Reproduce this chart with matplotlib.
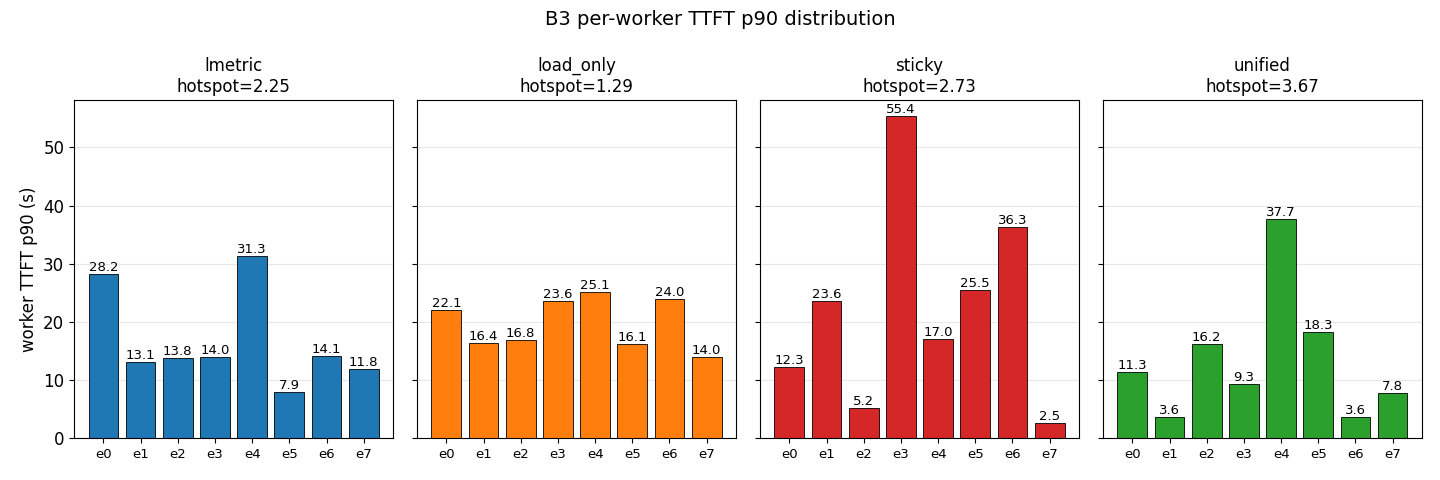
import matplotlib
matplotlib.use("Agg")
import matplotlib.pyplot as plt

workers = ['e0', 'e1', 'e2', 'e3', 'e4', 'e5', 'e6', 'e7']
policies = ['lmetric', 'load_only', 'sticky', 'unified']
hotspots = [2.25, 1.29, 2.73, 3.67]
colors = ['#1f77b4', '#ff7f0e', '#d62728', '#2ca02c']

lmetric_vals = [28.2, 13.1, 13.8, 14.0, 31.3, 7.9, 14.1, 11.8]
load_only_vals = [22.1, 16.4, 16.8, 23.6, 25.1, 16.1, 24.0, 14.0]
sticky_vals = [12.3, 23.6, 5.2, 55.4, 17.0, 25.5, 36.3, 2.5]
unified_vals = [11.3, 3.6, 16.2, 9.3, 37.7, 18.3, 3.6, 7.8]
all_vals = [lmetric_vals, load_only_vals, sticky_vals, unified_vals]

fig, axes = plt.subplots(1, 4, figsize=(14.4, 4.8), dpi=100, sharey=True)

for ax, name, hs, vals, c in zip(axes, policies, hotspots, all_vals, colors):
    bars = ax.bar(workers, vals, color=c, edgecolor='black', linewidth=0.6)
    for b, v in zip(bars, vals):
        ax.text(b.get_x() + b.get_width() / 2, v, f"{v:.1f}",
                ha='center', va='bottom', fontsize=9.5)
    ax.set_title(f"{name}\nhotspot={hs:.2f}", fontsize=12)
    ax.tick_params(axis='x', labelsize=9.5)
    ax.grid(axis='y', alpha=0.3)
    ax.set_axisbelow(True)

axes[0].set_ylabel('worker TTFT p90 (s)', fontsize=12)
axes[0].tick_params(axis='y', labelsize=12)
fig.suptitle('B3 per-worker TTFT p90 distribution', fontsize=14, y=0.98)
fig.subplots_adjust(left=0.0514, right=0.9875, top=0.7917, bottom=0.0875, wspace=0.075)
fig.savefig('out.png')
